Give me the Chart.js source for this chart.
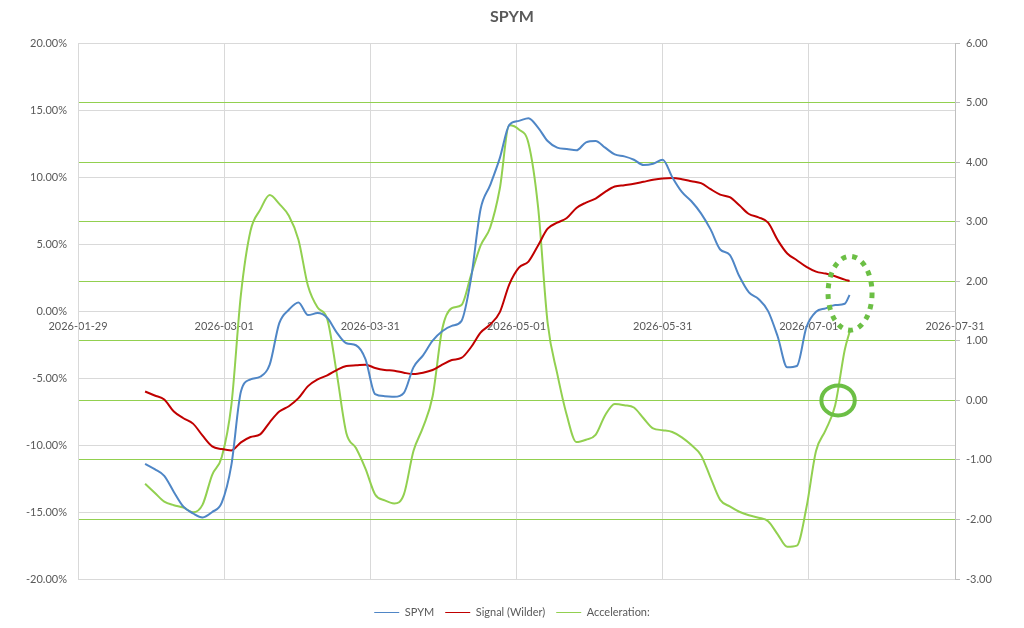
<!DOCTYPE html>
<html><head><meta charset="utf-8">
<script src="https://cdn.jsdelivr.net/npm/chart.js@4.4.1/dist/chart.umd.min.js"></script>
<style>html,body{margin:0;padding:0;background:#fff}#wrap{width:1024px;height:628px}</style>
</head><body><div id="wrap"><canvas id="c" width="1024" height="628"></canvas></div>
<script>
// ---- data ----
const dates = [
'2026-02-12','2026-02-14','2026-02-16','2026-02-18','2026-02-20','2026-02-22','2026-02-24','2026-02-26','2026-02-28','2026-03-02',
'2026-03-04','2026-03-06','2026-03-08','2026-03-10','2026-03-12','2026-03-14','2026-03-16','2026-03-18','2026-03-20','2026-03-22',
'2026-03-24','2026-03-26','2026-03-28','2026-03-30','2026-04-01','2026-04-03','2026-04-05','2026-04-07','2026-04-09','2026-04-11',
'2026-04-13','2026-04-15','2026-04-17','2026-04-19','2026-04-21','2026-04-23','2026-04-25','2026-04-27','2026-04-29','2026-05-01',
'2026-05-03','2026-05-05','2026-05-07','2026-05-09','2026-05-11','2026-05-13','2026-05-15','2026-05-17','2026-05-19','2026-05-21',
'2026-05-23','2026-05-25','2026-05-27','2026-05-29','2026-05-31','2026-06-02','2026-06-04','2026-06-06','2026-06-08','2026-06-10',
'2026-06-12','2026-06-14','2026-06-16','2026-06-18','2026-06-20','2026-06-22','2026-06-24','2026-06-26','2026-06-28','2026-06-30',
'2026-07-02','2026-07-04','2026-07-06','2026-07-08','2026-07-09'];
const spym = [
-11.4,-11.8,-12.3,-13.5,-14.6,-15.1,-15.4,-15.0,-14.3,-11.5,
-6.0,-5.1,-4.9,-4.0,-0.9,0.1,0.65,-0.3,-0.15,-0.5,
-1.6,-2.4,-2.55,-3.6,-6.2,-6.35,-6.4,-6.1,-4.2,-3.3,
-2.2,-1.5,-1.1,-0.75,2.4,7.6,9.4,11.4,13.9,14.2,
14.4,13.7,12.7,12.2,12.1,12.0,12.6,12.7,12.2,11.7,
11.55,11.3,10.9,11.0,11.3,10.0,8.9,8.2,7.3,6.1,
4.6,4.2,2.6,1.4,0.9,0.0,-1.9,-4.2,-4.1,-1.2,
-0.05,0.2,0.45,0.55,1.2];
const signal = [
-6.0,-6.3,-6.6,-7.5,-8.0,-8.4,-9.3,-10.1,-10.3,-10.4,
-9.8,-9.4,-9.2,-8.3,-7.5,-7.1,-6.5,-5.6,-5.1,-4.8,
-4.4,-4.1,-4.05,-4.0,-4.25,-4.4,-4.45,-4.6,-4.7,-4.6,
-4.4,-4.0,-3.65,-3.5,-2.7,-1.6,-1.0,-0.1,2.0,3.25,
3.7,4.9,6.15,6.6,6.95,7.7,8.1,8.4,8.9,9.3,
9.4,9.5,9.65,9.8,9.9,9.93,9.85,9.7,9.55,9.1,
8.7,8.5,7.9,7.25,7.0,6.6,5.3,4.3,3.8,3.3,
2.95,2.8,2.6,2.35,2.25];
const accel = [
-1.40,-1.55,-1.70,-1.76,-1.80,-1.88,-1.75,-1.25,-0.95,-0.08,
1.78,2.85,3.2,3.45,3.3,3.1,2.7,1.92,1.56,1.37,
0.45,-0.55,-0.8,-1.15,-1.58,-1.68,-1.73,-1.58,-0.85,-0.45,
0.07,1.2,1.55,1.6,2.1,2.6,2.9,3.55,4.62,4.55,
4.32,3.25,1.3,0.45,-0.25,-0.7,-0.66,-0.58,-0.25,-0.06,
-0.08,-0.12,-0.3,-0.47,-0.5,-0.53,-0.62,-0.75,-0.92,-1.3,
-1.67,-1.78,-1.87,-1.93,-1.97,-2.03,-2.25,-2.46,-2.44,-1.8,
-0.85,-0.5,-0.08,0.85,1.15];
const xTickLabels = ['2026-01-29','2026-03-01','2026-03-31','2026-05-01','2026-05-31','2026-07-01','2026-07-31'];
const seriesNames = ['SPYM','Signal (Wilder)','Acceleration:'];
// annotation centres (day offset from axis start, acceleration value)
const markerDays = [161.1, 158.6];
const markerValues = [1.8, 0.0];

// ---- helpers ----
const axisStart = Date.parse(xTickLabels[0]);
const dayOf = d => (Date.parse(d) - axisStart) / 86400000;
const xMax = dayOf(xTickLabels[xTickLabels.length - 1]);
const xUnit = xMax / (xTickLabels.length - 1);
const toXY = arr => arr.map((v, i) => ({ x: dayOf(dates[i]), y: v }));

Chart.defaults.font.family = 'Lato, "Open Sans", sans-serif';
Chart.defaults.color = '#595959';

const ellipsePlugin = {
  id: 'ellipses',
  afterDatasetsDraw(chart) {
    const { ctx, scales } = chart;
    const styles = [
      { rx: 22, ry: 37, lw: 5, dash: [5, 6] },
      { rx: 16.7, ry: 15, lw: 4, dash: [] }
    ];
    markerDays.forEach((d, i) => {
      const s = styles[i];
      const cx = scales.x.getPixelForValue(d);
      const cy = scales.y2.getPixelForValue(markerValues[i]);
      ctx.save();
      ctx.beginPath();
      ctx.ellipse(cx, cy, s.rx, s.ry, 0, 0, Math.PI * 2);
      ctx.lineWidth = s.lw;
      ctx.strokeStyle = '#6cbf45';
      ctx.setLineDash(s.dash);
      ctx.stroke();
      ctx.restore();
    });
  }
};

new Chart(document.getElementById('c'), {
  type: 'line',
  data: {
    datasets: [
      { label: seriesNames[0], data: toXY(spym), borderColor: '#4f86c6', backgroundColor: '#4f86c6', yAxisID: 'y' },
      { label: seriesNames[1], data: toXY(signal), borderColor: '#c00000', backgroundColor: '#c00000', yAxisID: 'y' },
      { label: seriesNames[2], data: toXY(accel), borderColor: '#92d050', backgroundColor: '#92d050', yAxisID: 'y2' }
    ]
  },
  options: {
    responsive: false,
    animation: false,
    layout: { padding: 0 },
    elements: {
      point: { radius: 0 },
      line: { borderWidth: 2, cubicInterpolationMode: 'monotone', fill: false }
    },
    plugins: {
      title: { display: true, text: 'SPYM', color: '#595959', font: { size: 16, weight: 'bold' }, padding: { top: 7, bottom: 17 } },
      legend: {
        position: 'bottom',
        labels: { usePointStyle: true, pointStyle: 'line', pointStyleWidth: 25, boxHeight: 11, color: '#595959', font: { size: 11 }, padding: 11 }
      },
      tooltip: { enabled: false }
    },
    scales: {
      x: {
        type: 'linear', position: { y: 0 }, min: 0, max: xMax,
        afterBuildTicks: s => { s.ticks = xTickLabels.map((l, i) => ({ value: i * xUnit })); },
        ticks: { callback: (v, i) => xTickLabels[i], maxRotation: 0, autoSkip: false, padding: 9, font: { size: 11 } },
        grid: { color: '#d9d9d9', drawTicks: false },
        border: { display: false },
        afterFit: s => { s.height = 0; }
      },
      xPad: {
        type: 'linear', position: 'bottom', display: true,
        grid: { display: false }, ticks: { display: false }, border: { display: false },
        afterFit: s => { s.height = 17; }
      },
      y: {
        position: 'left', min: -20, max: 20,
        ticks: { stepSize: 5, callback: v => v.toFixed(2) + '%', padding: 11, font: { size: 11 } },
        grid: { color: '#d9d9d9', drawTicks: false },
        border: { color: '#d9d9d9' },
        afterFit: s => { s.width = 78; }
      },
      y2: {
        position: 'right', min: -3, max: 6,
        ticks: { stepSize: 1, callback: v => v.toFixed(2), padding: 6, font: { size: 11 } },
        grid: {
          color: c => (c.tick && (c.tick.value === 6 || c.tick.value === -3)) ? 'rgba(0,0,0,0)' : '#92d050',
          tickColor: '#bfbfbf', tickLength: 5, drawTicks: true
        },
        border: { color: '#bfbfbf' },
        afterFit: s => { s.width = 69; }
      }
    }
  },
  plugins: [ellipsePlugin]
});
</script>
</body></html>
